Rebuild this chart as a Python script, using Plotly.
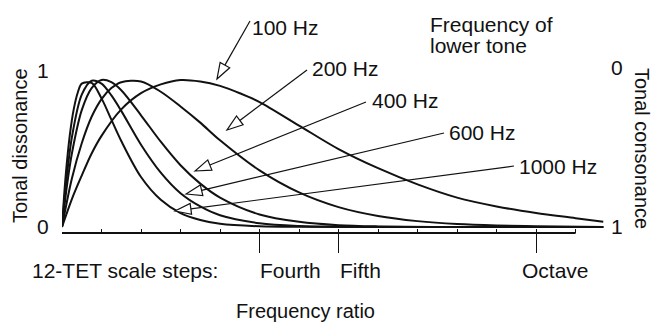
import math
import plotly.graph_objects as go

# Interval size in 12-TET semitones above the lower tone, and tonal dissonance (0..1)
st_100 = [0, 0.25, 0.5, 0.75, 1, 1.5, 2, 2.5, 3, 3.5, 4, 4.5, 5, 6, 7, 8, 9, 10, 11, 12, 13, 13.7]
dis_100 = [0, 0.19, 0.35, 0.50, 0.62, 0.80, 0.91, 0.97, 1.0, 0.99, 0.96, 0.91, 0.85, 0.69, 0.53,
           0.40, 0.29, 0.20, 0.14, 0.095, 0.06, 0.035]

st_200 = [0, 0.25, 0.5, 0.75, 1, 1.25, 1.5, 2, 2.5, 3, 3.5, 4, 5, 6, 7, 8, 9, 10, 11, 12, 13.7]
dis_200 = [0, 0.33, 0.57, 0.75, 0.87, 0.945, 0.985, 0.99, 0.92, 0.82, 0.71, 0.59, 0.385, 0.235,
           0.135, 0.075, 0.04, 0.02, 0.01, 0.005, 0.0]

st_400 = [0, 0.125, 0.25, 0.5, 0.75, 1, 1.25, 1.5, 2, 2.5, 3, 3.5, 4, 5, 6, 7, 8, 10, 13.7]
dis_400 = [0, 0.28, 0.50, 0.795, 0.945, 1.0, 0.985, 0.93, 0.76, 0.58, 0.42, 0.295, 0.20, 0.085,
           0.035, 0.012, 0.004, 0.0, 0.0]

st_600 = [0, 0.1, 0.25, 0.5, 0.75, 1, 1.25, 1.5, 2, 2.5, 3, 3.5, 4, 5, 6, 7, 10, 13.7]
dis_600 = [0, 0.29, 0.61, 0.90, 0.995, 0.975, 0.895, 0.79, 0.56, 0.37, 0.23, 0.14, 0.08, 0.026,
           0.007, 0.002, 0.0, 0.0]

st_1000 = [0, 0.05, 0.1, 0.2, 0.3, 0.4, 0.5, 0.75, 1, 1.25, 1.5, 2, 2.5, 3, 3.5, 4, 5, 6, 10, 13.7]
dis_1000 = [0, 0.20, 0.37, 0.63, 0.805, 0.915, 0.975, 0.98, 0.875, 0.73, 0.585, 0.34, 0.185,
            0.095, 0.048, 0.022, 0.005, 0.001, 0.0, 0.0]

curve_labels = ["100 Hz", "200 Hz", "400 Hz", "600 Hz", "1000 Hz"]
curve_x = [st_100, st_200, st_400, st_600, st_1000]
curve_y = [dis_100, dis_200, dis_400, dis_600, dis_1000]

# Named scale steps on the axis
step_positions = [5, 7, 12]
step_names = ["Fourth", "Fifth", "Octave"]
semitone_ticks = list(range(1, 14))
axis_end = 13

W, H = 656, 324
ML, MR, MT, MB = 62, 33, 10, 91
PW, PH = W - ML - MR, H - MT - MB
FONT = "Liberation Sans, Arial, Helvetica, sans-serif"
FS = 21


def paper(x, y):
    """Pixel position on the page -> paper coordinates."""
    return (x - ML) / PW, (H - MB - y) / PH


fig = go.Figure()
for name, xs, ys in zip(curve_labels, curve_x, curve_y):
    fig.add_trace(go.Scatter(
        x=xs, y=ys, mode="lines", name=name,
        line=dict(color="#111111", width=2, shape="spline", smoothing=0.9),
        showlegend=False, hoverinfo="skip",
    ))

shapes = []
annotations = []


def text(s, x, y, xanchor="left", angle=0, size=FS):
    px, py = paper(x, y)
    annotations.append(dict(
        text=s, x=px, y=py, xref="paper", yref="paper", showarrow=False,
        xanchor=xanchor, yanchor="middle", textangle=angle,
        font=dict(family=FONT, size=size, color="#111111"),
    ))


# x axis baseline (ends at 13 semitones)
shapes.append(dict(type="line", xref="x", yref="paper", x0=0, x1=axis_end, y0=0, y1=0,
                   line=dict(color="#111111", width=2)))

# Leader lines with open arrowheads: label anchor -> arrow tip
leaders = [
    ("100 Hz", (250, 27), (250, 21), (217, 79)),
    ("200 Hz", (310, 68), (307, 70), (227, 130)),
    ("400 Hz", (370, 100), (366, 102), (195, 171)),
    ("600 Hz", (447, 132), (444, 133), (186, 194)),
    ("1000 Hz", (517, 166), (514, 166), (175, 211)),
]
HEAD_L, HEAD_W = 16, 11
heads = []
for label, (tx, ty), (sx, sy), (ex, ey) in leaders:
    text(label, tx, ty)
    dx, dy = sx - ex, sy - ey
    d = math.hypot(dx, dy)
    ux, uy = dx / d, dy / d
    bx, by = ex + HEAD_L * ux, ey + HEAD_L * uy
    nx, ny = -uy, ux
    p0 = paper(sx, sy)
    p1 = paper(bx, by)
    shapes.append(dict(type="line", xref="paper", yref="paper", x0=p0[0], y0=p0[1],
                       x1=p1[0], y1=p1[1], line=dict(color="#111111", width=1.2)))
    pts = [paper(ex, ey),
           paper(bx + nx * HEAD_W / 2, by + ny * HEAD_W / 2),
           paper(bx - nx * HEAD_W / 2, by - ny * HEAD_W / 2)]
    path = "M {} {} L {} {} L {} {} Z".format(*[v for p in pts for v in p])
    heads.append(dict(type="path", xref="paper", yref="paper", path=path,
                      fillcolor="white", line=dict(color="#111111", width=1.2)))
shapes.extend(heads)

# Axis and scale texts
text("1", 43, 70, xanchor="center")
text("0", 43, 226, xanchor="center")
text("0", 617, 67, xanchor="center")
text("1", 617, 226, xanchor="center")
text("Tonal dissonance", 20, 146, xanchor="center", angle=-90, size=20)
text("Tonal consonance", 642, 148, xanchor="center", angle=90, size=20)
text("Frequency of", 428, 25)
text("lower tone", 428, 45)
text("12-TET scale steps:", 30, 270)
step_left = [258, 338, 520]
for nm, lx in zip(step_names, step_left):
    text(nm, lx, 270)
text("Frequency ratio", 305, 311, xanchor="center", size=20)

fig.update_layout(
    width=W, height=H,
    margin=dict(l=ML, r=MR, t=MT, b=MB, pad=0),
    paper_bgcolor="white", plot_bgcolor="white",
    shapes=shapes, annotations=annotations,
    xaxis=dict(
        range=[0, 14.2], showgrid=False, zeroline=False, showline=False,
        tickmode="array", tickvals=step_positions, ticks="outside", ticklen=19,
        tickwidth=1, tickcolor="#111111", showticklabels=False,
        minor=dict(tickmode="array", tickvals=semitone_ticks, ticks="inside",
                   ticklen=4, tickwidth=1, tickcolor="#111111", showgrid=False),
    ),
    yaxis=dict(range=[-0.0408, 1.476], visible=False),
)

fig.write_html("out.html")
